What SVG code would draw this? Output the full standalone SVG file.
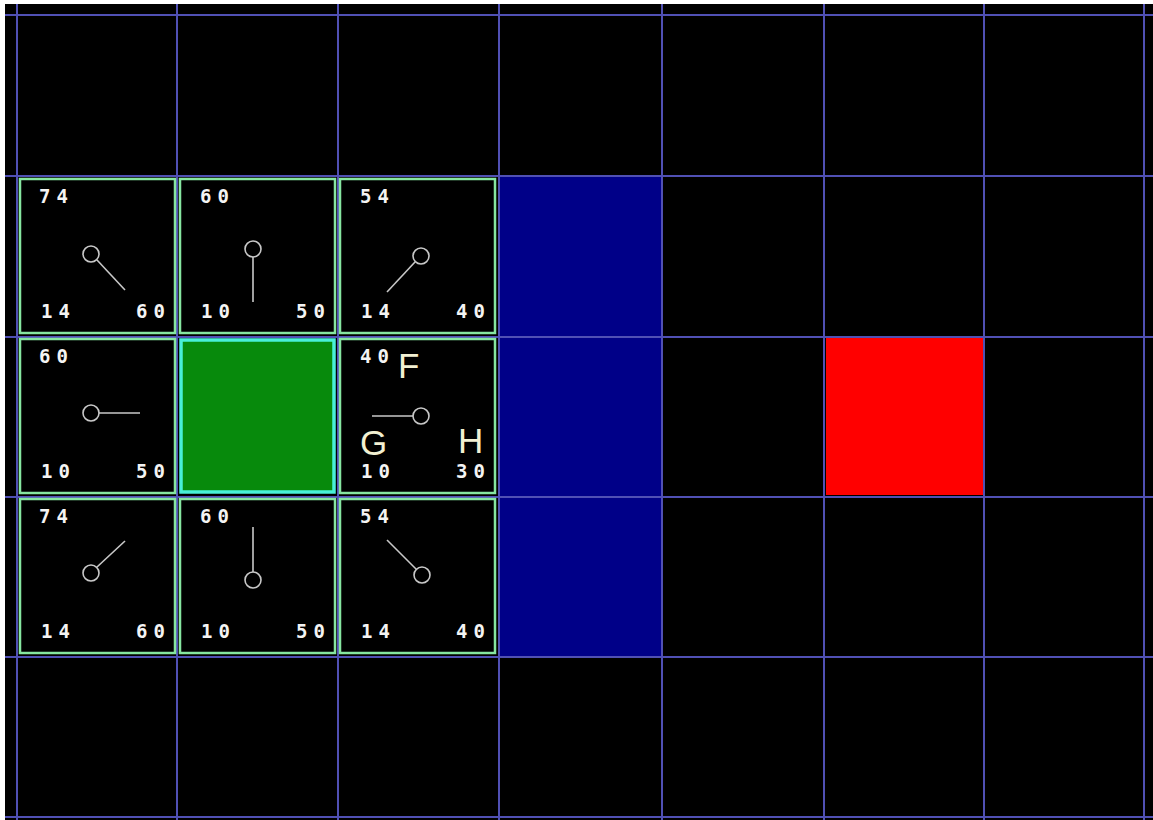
<svg xmlns="http://www.w3.org/2000/svg" width="1153" height="820" viewBox="0 0 1153 820">
<style>
.grid{stroke:#5050b4;stroke-width:2;fill:none}
.box{fill:#000;stroke:#86e6a0;stroke-width:2.5}
.num{font-family:"DejaVu Sans Mono",monospace;font-weight:bold;font-size:19px;letter-spacing:6px;fill:#f4f4f4}
.ptr{stroke:#c8c8c8;stroke-width:1.6;fill:none}
.big{font-family:"Liberation Sans",Arial,sans-serif;font-size:35px;fill:#f2f0d2}
</style>
<rect x="0" y="0" width="1153" height="820" fill="#ffffff"/>
<rect x="5" y="4" width="1148" height="816" fill="#000000"/>
<g id="walls">
<rect x="499" y="176" width="163" height="481" fill="#000088"/>
</g>
<g id="target">
<rect x="826" y="338" width="157" height="157" fill="#ff0000"/>
</g>
<g id="grid">
<line class="grid" x1="17" y1="4" x2="17" y2="820"/>
<line class="grid" x1="177" y1="4" x2="177" y2="820"/>
<line class="grid" x1="338" y1="4" x2="338" y2="820"/>
<line class="grid" x1="499" y1="4" x2="499" y2="820"/>
<line class="grid" x1="662" y1="4" x2="662" y2="820"/>
<line class="grid" x1="824" y1="4" x2="824" y2="820"/>
<line class="grid" x1="984" y1="4" x2="984" y2="820"/>
<line class="grid" x1="1144" y1="4" x2="1144" y2="820"/>
<line class="grid" x1="5" y1="15" x2="1153" y2="15"/>
<line class="grid" x1="5" y1="176" x2="1153" y2="176"/>
<line class="grid" x1="5" y1="337" x2="1153" y2="337"/>
<line class="grid" x1="5" y1="497" x2="1153" y2="497"/>
<line class="grid" x1="5" y1="657" x2="1153" y2="657"/>
<line class="grid" x1="5" y1="817" x2="1153" y2="817"/>
</g>
<g id="start">
<rect x="181" y="340" width="153" height="152" fill="#078a0c" stroke="#48f0d8" stroke-width="3.5"/>
</g>
<g id="n00">
<rect class="box" x="20" y="179" width="155" height="154"/>
<text class="num" x="39" y="203">74</text><text class="num" x="41" y="318">14</text><text class="num" x="136" y="318">60</text>
<circle class="ptr" cx="91" cy="254" r="8"/><line class="ptr" x1="97" y1="260" x2="125" y2="290"/>
</g>
<g id="n10">
<rect class="box" x="180" y="179" width="155" height="154"/>
<text class="num" x="200" y="203">60</text><text class="num" x="201" y="318">10</text><text class="num" x="296" y="318">50</text>
<circle class="ptr" cx="253" cy="249" r="8"/><line class="ptr" x1="253" y1="257" x2="253" y2="302"/>
</g>
<g id="n20">
<rect class="box" x="340" y="179" width="155" height="154"/>
<text class="num" x="360" y="203">54</text><text class="num" x="361" y="318">14</text><text class="num" x="456" y="318">40</text>
<circle class="ptr" cx="421" cy="256" r="8"/><line class="ptr" x1="415" y1="262" x2="387" y2="292"/>
</g>
<g id="n01">
<rect class="box" x="20" y="339" width="155" height="154"/>
<text class="num" x="39" y="363">60</text><text class="num" x="41" y="478">10</text><text class="num" x="136" y="478">50</text>
<circle class="ptr" cx="91" cy="413" r="8"/><line class="ptr" x1="99" y1="413" x2="140" y2="413"/>
</g>
<g id="n21">
<rect class="box" x="340" y="339" width="155" height="154"/>
<text class="num" x="360" y="363">40</text><text class="num" x="361" y="478">10</text><text class="num" x="456" y="478">30</text>
<text class="big" x="398" y="378">F</text><text class="big" x="360" y="455">G</text><text class="big" x="458" y="453">H</text>
<circle class="ptr" cx="421" cy="416" r="8"/><line class="ptr" x1="413" y1="416" x2="372" y2="416"/>
</g>
<g id="n02">
<rect class="box" x="20" y="499" width="155" height="154"/>
<text class="num" x="39" y="523">74</text><text class="num" x="41" y="638">14</text><text class="num" x="136" y="638">60</text>
<circle class="ptr" cx="91" cy="573" r="8"/><line class="ptr" x1="97" y1="567" x2="125" y2="541"/>
</g>
<g id="n12">
<rect class="box" x="180" y="499" width="155" height="154"/>
<text class="num" x="200" y="523">60</text><text class="num" x="201" y="638">10</text><text class="num" x="296" y="638">50</text>
<circle class="ptr" cx="253" cy="580" r="8"/><line class="ptr" x1="253" y1="572" x2="253" y2="527"/>
</g>
<g id="n22">
<rect class="box" x="340" y="499" width="155" height="154"/>
<text class="num" x="360" y="523">54</text><text class="num" x="361" y="638">14</text><text class="num" x="456" y="638">40</text>
<circle class="ptr" cx="422" cy="575" r="8"/><line class="ptr" x1="416" y1="569" x2="387" y2="540"/>
</g>
</svg>
